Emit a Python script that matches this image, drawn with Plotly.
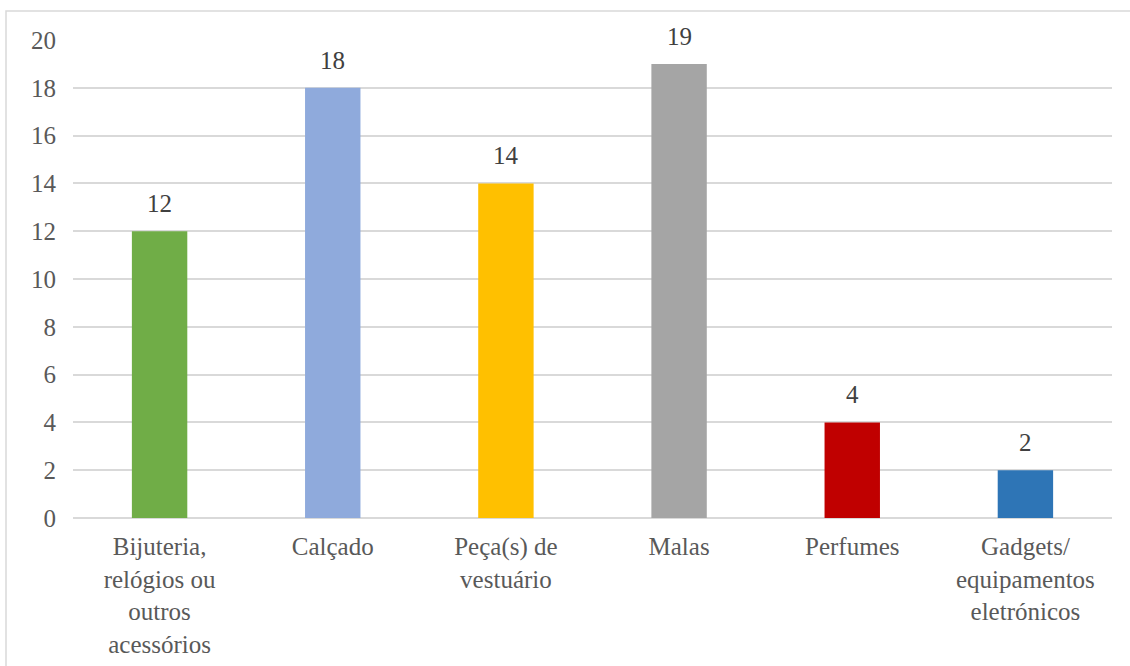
import plotly.graph_objects as go

categories = ["Bijuteria,<br>relógios ou<br>outros<br>acessórios", "Calçado", "Peça(s) de<br>vestuário",
              "Malas", "Perfumes", "Gadgets/<br>equipamentos<br>eletrónicos"]
values = [12, 18, 14, 19, 4, 2]
colors = ["#70AD47", "#8FAADC", "#FFC000", "#A5A5A5", "#C00000", "#2E75B6"]
y_ticks = [0, 2, 4, 6, 8, 10, 12, 14, 16, 18, 20]

FONT = "Liberation Serif"
FS = 25
W, H = 1130, 666
L, R, T, B = 73, 18, 40, 148
pw, ph = W - L - R, H - T - B

fig = go.Figure(go.Bar(
    x=categories, y=values, marker=dict(color=colors, line=dict(width=0)),
    hoverinfo="skip",
))

for c, v in zip(categories, values):
    fig.add_annotation(x=c, y=v, text=str(v), showarrow=False, yanchor="bottom",
                       yshift=12, font=dict(family=FONT, size=FS, color="#404040"))

fig.update_layout(
    width=W, height=H,
    margin=dict(l=L, r=R, t=T, b=B),
    paper_bgcolor="white", plot_bgcolor="white",
    bargap=0.68, showlegend=False,
    font=dict(family=FONT, size=FS, color="#595959"),
    xaxis=dict(showgrid=False, showline=False, ticks="", tickangle=0,
               ticklabelstandoff=11, automargin=False,
               tickfont=dict(family=FONT, size=FS, color="#595959")),
    yaxis=dict(range=[0, 20], tickvals=y_ticks, showgrid=True, gridcolor="#D9D9D9",
               gridwidth=1.5, zeroline=True, zerolinecolor="#D9D9D9", zerolinewidth=1.5,
               showline=False, ticks="", ticklabelstandoff=16, automargin=False,
               tickfont=dict(family=FONT, size=FS, color="#595959")),
    shapes=[dict(type="rect", xref="paper", yref="paper",
                 x0=(6 - L) / pw, x1=(W + 10 - L) / pw,
                 y0=-(H + 10 - T - ph) / ph, y1=(H - B - 11) / ph,
                 line=dict(color="#D9D9D9", width=1.5), layer="below")],
)

fig.write_html("out.html", config={"displayModeBar": False},
               post_script="document.body.style.margin='0';")
